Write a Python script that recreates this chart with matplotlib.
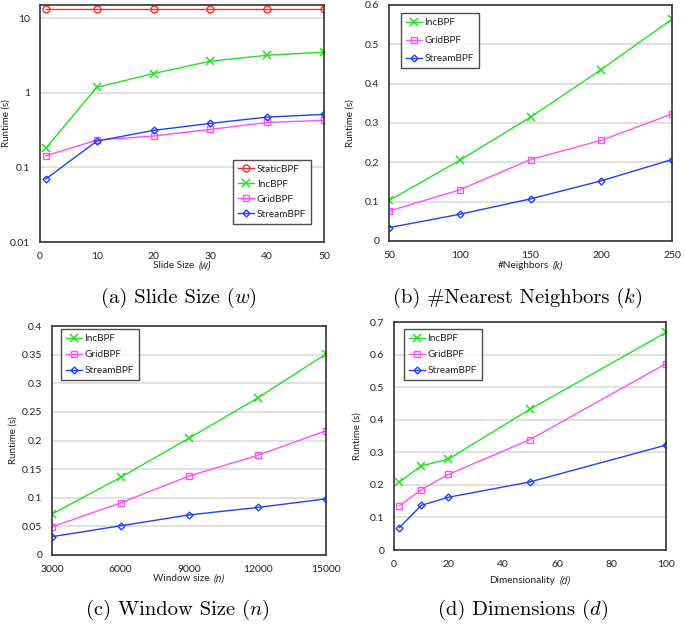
import matplotlib
matplotlib.use("Agg")
import matplotlib.pyplot as plt
from matplotlib.ticker import FuncFormatter, FixedLocator, NullLocator
from matplotlib.offsetbox import TextArea, HPacker, AnnotationBbox

plt.rcParams["font.family"] = ["Lato", "DejaVu Sans"]

# (a) slide size w, log scale
slide_w = [1, 10, 20, 30, 40, 50]
slide_static = [13.4, 13.4, 13.4, 13.4, 13.4, 13.4]
slide_inc = [0.18, 1.18, 1.81, 2.65, 3.18, 3.5]
slide_grid = [0.143, 0.232, 0.263, 0.323, 0.40, 0.427]
slide_stream = [0.0697, 0.225, 0.313, 0.389, 0.472, 0.513]

# (b) number of neighbors k
knn_k = [50, 100, 150, 200, 250]
knn_inc = [0.103, 0.205, 0.315, 0.436, 0.564]
knn_grid = [0.076, 0.130, 0.207, 0.256, 0.323]
knn_stream = [0.034, 0.068, 0.107, 0.153, 0.207]

# (c) window size n
win_n = [3000, 6000, 9000, 12000, 15000]
win_inc = [0.0715, 0.1355, 0.204, 0.274, 0.351]
win_grid = [0.049, 0.091, 0.138, 0.174, 0.217]
win_stream = [0.032, 0.051, 0.070, 0.083, 0.098]

# (d) dimensionality d
dim_d = [2, 10, 20, 50, 100]
dim_inc = [0.209, 0.258, 0.279, 0.432, 0.668]
dim_grid = [0.136, 0.185, 0.232, 0.339, 0.572]
dim_stream = [0.069, 0.137, 0.162, 0.209, 0.322]

RED = "#ff2a2a"
GREEN = "#22e022"
MAGENTA = "#ff4dff"
BLUE = "#2040ff"

W, H = 685, 625
fig = plt.figure(figsize=(W / 100, H / 100), dpi=100)


def make_ax(x0, y0, x1, y1):
    # pixel box -> figure fraction
    return fig.add_axes([x0 / W, 1 - y1 / H, (x1 - x0) / W, (y1 - y0) / H])


def style(ax, xticks, yticks, xlim, ylim, log=False):
    if log:
        ax.set_yscale("log")
    ax.set_xlim(*xlim)
    ax.set_ylim(*ylim)
    ax.xaxis.set_major_locator(FixedLocator(xticks))
    ax.yaxis.set_major_locator(FixedLocator(yticks))
    ax.yaxis.set_minor_locator(NullLocator())
    fmt = FuncFormatter(lambda v, p: "{:g}".format(round(v, 4)))
    ax.xaxis.set_major_formatter(fmt)
    ax.yaxis.set_major_formatter(fmt)
    ax.tick_params(length=0, labelsize=7.5, pad=7, colors="#222222")
    ax.grid(axis="y", color="#d9d9d9", lw=1.1)
    ax.set_axisbelow(True)
    for s in ax.spines.values():
        s.set_color("#333333")
        s.set_linewidth(1.2)


def packed(parts, fig_xy=None, ax=None, ypix=0, sep=1):
    box = HPacker(children=[TextArea(t, textprops=p) for t, p in parts],
                  align="baseline", pad=0, sep=sep)
    if ax is not None:
        ab = AnnotationBbox(box, (0.5, 0), xycoords="axes fraction",
                            xybox=(0, -ypix), boxcoords="offset points",
                            frameon=False, box_alignment=(0.5, 0.5))
        ax.add_artist(ab)
    else:
        ab = AnnotationBbox(box, fig_xy, xycoords="figure fraction",
                            frameon=False, box_alignment=(0.5, 0.5))
        fig.add_artist(ab)


def xlabel(ax, plain, ital, ypix):
    p = dict(size=7.2, color="#222222")
    packed([(plain, p), (ital, dict(p, style="italic", family="Open Sans", size=7))],
           ax=ax, ypix=ypix, sep=3)


def caption(x, y, before, var):
    rm = dict(size=14.8, family="cmr10", color="black")
    it = dict(size=14.8, family="cmmi10", color="black")
    packed([(before + "(", rm), (var, it), (")", rm)], fig_xy=(x / W, 1 - y / H), sep=0)


def series(ax, x, inc, grid, stream, static=None):
    if static is not None:
        ax.plot(x, static, color=RED, lw=1, marker="o", ms=5, mfc="none",
                mec=RED, mew=1, label="StaticBPF")
    ax.plot(x, inc, color=GREEN, lw=1, marker="x", ms=6, mew=1.1, label="IncBPF")
    ax.plot(x, grid, color=MAGENTA, lw=1, marker="s", ms=5, mfc="none",
            mec=MAGENTA, mew=1, label="GridBPF")
    ax.plot(x, stream, color=BLUE, lw=1, marker="D", ms=3.5, mfc="none",
            mec=BLUE, mew=1, label="StreamBPF")


def legend(ax, **kw):
    leg = ax.legend(fontsize=7.2, frameon=True, fancybox=False, edgecolor="#222222",
                    handlelength=1.6, handletextpad=0.25, borderpad=0.5,
                    borderaxespad=0, **kw)
    leg.get_frame().set_linewidth(1)
    for t in leg.get_texts():
        t.set_color("#222222")


def ylabel(ax, xpix):
    ax.set_ylabel("Runtime (s)", fontsize=7, color="#222222")
    ax.yaxis.set_label_coords(xpix, 0.5)


# (a)
ax = make_ax(40, 5, 324, 242)
series(ax, slide_w, slide_inc, slide_grid, slide_stream, slide_static)
style(ax, [0, 10, 20, 30, 40, 50], [0.01, 0.1, 1, 10], (0, 50), (0.01, 15), log=True)
legend(ax, loc="lower right", bbox_to_anchor=(0.954, 0.076), labelspacing=0.6)
ylabel(ax, -0.105)
xlabel(ax, "Slide Size", "(w)", 17)

# (b)
ax = make_ax(389, 5, 672, 241)
series(ax, knn_k, knn_inc, knn_grid, knn_stream)
style(ax, knn_k, [0, 0.1, 0.2, 0.3, 0.4, 0.5, 0.6], (50, 250), (0, 0.6))
legend(ax, loc="upper left", bbox_to_anchor=(0.042, 0.966), labelspacing=0.9)
ylabel(ax, -0.12)
xlabel(ax, "#Neighbors", "(k)", 18)

# (c)
ax = make_ax(52, 326, 326, 555)
series(ax, win_n, win_inc, win_grid, win_stream)
style(ax, win_n, [0, 0.05, 0.1, 0.15, 0.2, 0.25, 0.3, 0.35, 0.4], (3000, 15000), (0, 0.4))
legend(ax, loc="upper left", bbox_to_anchor=(0.032, 0.986), labelspacing=0.7)
ylabel(ax, -0.125)
xlabel(ax, "Window size", "(n)", 17)

# (d)
ax = make_ax(394, 322, 666, 550)
series(ax, dim_d, dim_inc, dim_grid, dim_stream)
style(ax, [0, 20, 40, 60, 80, 100], [0, 0.1, 0.2, 0.3, 0.4, 0.5, 0.6, 0.7], (0, 100), (0, 0.7))
legend(ax, loc="upper left", bbox_to_anchor=(0.037, 0.968), labelspacing=0.7)
ylabel(ax, -0.12)
xlabel(ax, "Dimensionality", "(d)", 22.3)

# captions
caption(179, 298, "(a) Slide Size ", "w")
caption(518, 298, "(b) #Nearest Neighbors ", "k")
caption(178, 610, "(c) Window Size ", "n")
caption(523, 610, "(d) Dimensions ", "d")

fig.savefig("out.png", dpi=100)
